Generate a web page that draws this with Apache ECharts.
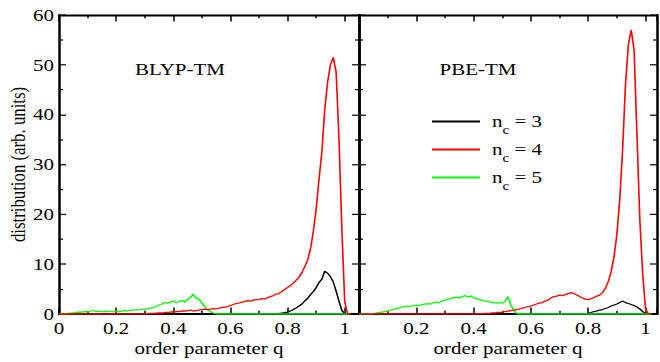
<!DOCTYPE html>
<html>
<head>
<meta charset="utf-8">
<script src="https://cdn.jsdelivr.net/npm/echarts@6/dist/echarts.min.js"></script>
<style>
html, body { margin: 0; padding: 0; overflow: hidden; background: #fff; width: 660px; height: 362px; }
#chart { width: 660px; height: 452.5px; transform: scaleY(0.8); transform-origin: 0 0; }
</style>
</head>
<body>
<div id="chart"></div>
<script>
// order parameter grid
const q = [0,0.01,0.02,0.03,0.04,0.05,0.06,0.07,0.08,0.09,
0.10,0.11,0.12,0.13,0.14,0.15,0.16,0.17,0.18,0.19,
0.20,0.21,0.22,0.23,0.24,0.25,0.26,0.27,0.28,0.29,
0.30,0.31,0.32,0.33,0.34,0.35,0.36,0.37,0.38,0.39,
0.40,0.41,0.42,0.43,0.44,0.45,0.46,0.47,0.48,0.49,
0.50,0.51,0.52,0.53,0.54,0.55,0.56,0.57,0.58,0.59,
0.60,0.61,0.62,0.63,0.64,0.65,0.66,0.67,0.68,0.69,
0.70,0.71,0.72,0.73,0.74,0.75,0.76,0.77,0.78,0.79,
0.80,0.81,0.82,0.83,0.84,0.85,0.86,0.87,0.88,0.89,
0.90,0.91,0.92,0.93,0.94,0.95,0.96,0.97,0.98,0.99,
1.00,1.01,1.02];

// BLYP-TM panel
const blyp_nc3 = [0,0,0,0,0,0,0,0,0,0, 0,0,0,0,0,0,0,0,0,0, 0,0,0,0,0,0,0,0,0,0,
0,0,0,0,0,0,0,0,0,0, 0,0,0,0,0,0,0,0,0,0, 0,0,0,0,0,0,0,0,0,0,
0,0,0,0,0,0,0,0,0,0, 0,0,0,0,0,0,
0.05,0.1,0.2,0.3,0.4,0.6,0.9,1.2,1.6,2.0,2.6,3.1,3.9,4.5,5.3,6.3,7.0,8.6,8.2,7.5,6.4,4.6,2.6,0.7,0.1,0,0];
const blyp_nc4 = [0,0,0,0,0,0,0,0,0,0, 0,0,0,0,0,0,0,0,0,0, 0,0,0,0,0,0,0,0,0,0, 0,
0.05,0.1,0.1,0.15,0.2,0.2,0.3,0.3,0.4,0.4,0.5,0.5,0.6,0.6,0.7,0.8,0.6,0.7,0.8,
0.9,1.0,0.9,1.0,1.1,1.0,1.2,1.3,1.4,1.5,1.7,1.9,2.1,2.2,2.4,2.5,2.7,2.6,2.8,2.9,
2.9,3.1,3.0,3.3,3.5,3.7,4.0,4.1,4.5,4.9,5.3,5.7,6.2,6.8,7.4,8.3,9.5,10.8,13.0,16.5,
21.0,27.0,32.5,41.0,46.5,50.0,51.5,48.5,35.0,17.0,2.5,0,0];
const blyp_nc5 = [0,0,0.05,0.1,0.15,0.2,0.3,0.35,0.4,0.5,
0.45,0.55,0.7,0.5,0.6,0.45,0.55,0.5,0.6,0.45,
0.55,0.5,0.6,0.7,0.6,0.8,0.75,0.9,0.8,0.95,
0.9,1.1,1.2,1.3,1.5,1.8,2.0,2.3,2.1,2.4,
2.6,2.3,2.5,2.7,2.4,2.9,3.3,4.0,3.2,3.0,
2.2,1.5,0.9,0.5,0.2,0.05,
0,0,0,0,0,0,0,0,0,0, 0,0,0,0,0,0,0,0,0,0, 0,0,0,0,0,0,0,0,0,0, 0,0,0,0,0,0,0,0,0,0, 0,0,0,0,0,0,0];

// PBE-TM panel
const pbe_nc3 = [0,0,0,0,0,0,0,0,0,0, 0,0,0,0,0,0,0,0,0,0, 0,0,0,0,0,0,0,0,0,0, 0,0,0,0,0,0,0,0,0,0,
0,0,0,0,0,0,0,0,0,0, 0,0,0,0,0,0,0,0,0,0, 0,0,0,0,0,0,0,0,0,0, 0,0,0,0,0,0,0,0,0,0,
0.2,0.3,0.5,0.6,0.8,0.9,1.1,1.3,1.6,1.8,2.0,2.3,2.6,2.3,2.1,1.9,1.7,1.4,1.0,0.5,0.1,0,0];
const pbe_nc4 = [0,0,0,0,0,0,0,0,0,0, 0,0,0,0,0,0,0,0,0,0, 0,0,0,0,0,0,0,0,0,0, 0,0,0,0,0,0,0,0,0,0, 0,0,
0.05,0.05,0.1,0.1,0.2,0.2,0.3,0.3,
0.4,0.5,0.6,0.7,0.8,0.9,1.0,1.2,1.3,1.5,
1.6,1.8,2.0,2.2,2.3,2.6,2.8,3.2,3.5,3.6,
3.8,3.7,3.9,4.1,4.3,4.1,3.8,3.5,3.2,3.0,
2.9,3.1,3.3,3.6,3.8,4.3,5.2,6.5,8.5,11.5,
16.0,23.0,33.0,46.0,54.0,57.0,53.0,36.0,19.0,8.0,
1.0,0,0];
const pbe_nc5 = [0,0,0,0,0,0.1,0.2,0.3,0.4,0.5,
0.6,0.8,0.9,1.1,1.2,1.4,1.5,1.6,1.5,1.7,
1.8,1.7,1.9,2.0,2.1,2.0,2.3,2.4,2.3,2.6,
2.8,3.0,3.1,3.3,3.4,3.2,3.5,3.7,3.4,3.6,
3.3,3.1,2.9,2.8,2.6,2.5,2.4,2.3,2.2,2.3,
2.2,2.5,3.5,1.8,0.8,0.1,
0,0,0,0,0,0,0,0,0,0, 0,0,0,0,0,0,0,0,0,0, 0,0,0,0,0,0,0,0,0,0, 0,0,0,0,0,0,0,0,0,0, 0,0,0,0,0,0,0];

const seriesNames = ['n_c = 3', 'n_c = 4', 'n_c = 5'];
const panelTitles = ['BLYP-TM', 'PBE-TM'];
const xName = 'order parameter q';
const yName = 'distribution (arb. units)';

const colors = ['#000000', '#ff0000', '#00ff00'];
const FONT = 'Liberation Serif';
const FS = 21;

function pairs(vals) { return q.map((x, i) => [x, vals[i]]); }

function xAx(gridIndex, max, pos, labels, hideMin) {
  return {
    type: 'value', gridIndex, position: pos, min: 0, max: max, interval: 0.2,
    name: labels ? xName : '', nameLocation: 'middle', nameGap: 31,
    nameTextStyle: { fontFamily: FONT, fontSize: FS, color: '#000' },
    axisLine: { show: true, onZero: false, lineStyle: { color: '#000', width: 2.5 } },
    axisTick: { show: true, inside: true, length: 8, lineStyle: { color: '#000', width: 1.5 } },
    minorTick: { show: true, splitNumber: 2, length: 4, lineStyle: { color: '#000', width: 1.5 } },
    axisLabel: { show: labels, margin: 7, fontFamily: FONT, fontSize: FS, color: '#000',
      showMaxLabel: false, showMinLabel: !hideMin },
    splitLine: { show: false }
  };
}
function yAx(gridIndex, pos, labels) {
  return {
    type: 'value', gridIndex, position: pos, min: 0, max: 60, interval: 10,
    name: labels ? yName : '', nameLocation: 'middle', nameGap: 31,
    nameTextStyle: { fontFamily: FONT, fontSize: FS, color: '#000' },
    axisLine: { show: true, onZero: false, lineStyle: { color: '#000', width: 2.5 } },
    axisTick: { show: true, inside: true, length: 7, lineStyle: { color: '#000', width: 1.5 } },
    minorTick: { show: true, splitNumber: 2, length: 4, lineStyle: { color: '#000', width: 1.5 } },
    axisLabel: { show: labels, margin: 5, fontFamily: FONT, fontSize: FS, color: '#000' },
    splitLine: { show: false }
  };
}

const panels = [[blyp_nc3, blyp_nc4, blyp_nc5], [pbe_nc3, pbe_nc4, pbe_nc5]];
const series = [];
panels.forEach((set, p) => {
  set.forEach((vals, k) => {
    series.push({
      type: 'line', name: seriesNames[k], xAxisIndex: p * 2, yAxisIndex: p * 2,
      data: pairs(vals), showSymbol: false, symbol: 'none', animation: false,
      lineStyle: { color: colors[k], width: 1.6 }, itemStyle: { color: colors[k] },
      z: k === 1 ? 3 : 2
    });
  });
});

const chart = echarts.init(document.getElementById('chart'), null, { renderer: 'svg' });
chart.setOption({
  animation: false,
  backgroundColor: '#fff',
  grid: [
    { left: 59, top: 18.75, width: 300, height: 373.75, containLabel: false },
    { left: 359, top: 18.75, width: 298, height: 373.75, containLabel: false }
  ],
  xAxis: [
    xAx(0, 1.05, 'bottom', true, false),
    xAx(0, 1.05, 'top', false, false),
    xAx(1, 1.04, 'bottom', true, true),
    xAx(1, 1.04, 'top', false, false)
  ],
  yAxis: [
    yAx(0, 'left', true),
    yAx(0, 'right', false),
    yAx(1, 'left', false),
    yAx(1, 'right', false)
  ],
  legend: {
    data: seriesNames, orient: 'vertical', left: 427, top: 129.5,
    icon: 'rect', itemWidth: 48, itemHeight: 2.5, itemGap: 0,
    selectedMode: false,
    formatter: function (name) {
      const parts = name.split('_c');
      return '{a|n}{s|c}{n|' + parts[1] + '}';
    },
    textStyle: {
      color: '#000', fontFamily: FONT, fontSize: FS,
      rich: {
        a: { fontFamily: FONT, fontSize: FS, lineHeight: 20, padding: [0, 0, 0, 7], color: '#000' },
        n: { fontFamily: FONT, fontSize: FS, lineHeight: 20, color: '#000' },
        s: { fontFamily: FONT, fontSize: 15, lineHeight: 12, padding: [20, 0, 0, 0], color: '#000' }
      }
    }
  },
  graphic: [
    { type: 'text', x: 180, y: 87, style: { text: panelTitles[0], fontFamily: FONT, fontSize: FS, fill: '#000', align: 'center', verticalAlign: 'middle' } },
    { type: 'text', x: 478, y: 87, style: { text: panelTitles[1], fontFamily: FONT, fontSize: FS, fill: '#000', align: 'center', verticalAlign: 'middle' } }
  ],
  series: series
});
</script>
</body>
</html>
